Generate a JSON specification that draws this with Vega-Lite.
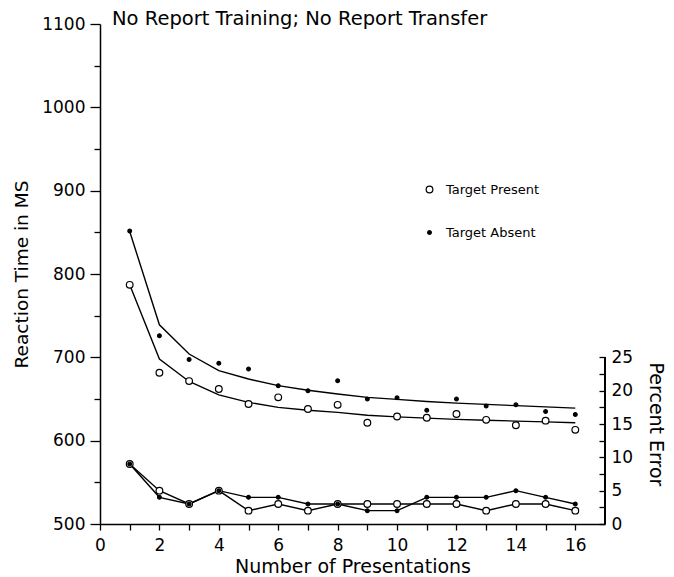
{
  "$schema": "https://vega.github.io/schema/vega-lite/v6.json",
  "width": 505,
  "height": 500,
  "autosize": {"type": "none"},
  "padding": {"left": 100, "top": 24, "right": 69, "bottom": 53},
  "background": "white",
  "title": {
    "text": "No Report Training; No Report Transfer",
    "anchor": "start",
    "frame": "group",
    "dx": 12,
    "offset": -14,
    "font": "DejaVu Sans",
    "fontSize": 19.5,
    "fontWeight": "normal",
    "color": "black"
  },
  "config": {
    "view": {"stroke": null},
    "axis": {
      "grid": false,
      "domainColor": "black",
      "domainWidth": 1.5,
      "tickColor": "black",
      "tickWidth": 1.3,
      "labelFont": "DejaVu Sans",
      "labelFontSize": 17,
      "labelColor": "black",
      "titleFont": "DejaVu Sans",
      "titleFontSize": 18.5,
      "titleFontWeight": "normal",
      "titleColor": "black"
    },
    "legend": {
      "labelFont": "DejaVu Sans",
      "labelFontSize": 13,
      "labelColor": "black"
    }
  },
  "data": {
    "values": [
      {"x": 1, "target": "Target Present", "rt": 787, "fit": 787, "err": 9},
      {"x": 2, "target": "Target Present", "rt": 681.5, "fit": 698, "err": 5},
      {"x": 3, "target": "Target Present", "rt": 671.5, "fit": 671, "err": 3},
      {"x": 4, "target": "Target Present", "rt": 662, "fit": 655, "err": 5},
      {"x": 5, "target": "Target Present", "rt": 644, "fit": 646, "err": 2},
      {"x": 6, "target": "Target Present", "rt": 652, "fit": 640, "err": 3},
      {"x": 7, "target": "Target Present", "rt": 638, "fit": 636.5, "err": 2},
      {"x": 8, "target": "Target Present", "rt": 643, "fit": 634, "err": 3},
      {"x": 9, "target": "Target Present", "rt": 621.5, "fit": 630.5, "err": 3},
      {"x": 10, "target": "Target Present", "rt": 629, "fit": 628.5, "err": 3},
      {"x": 11, "target": "Target Present", "rt": 627.5, "fit": 627, "err": 3},
      {"x": 12, "target": "Target Present", "rt": 632, "fit": 625.5, "err": 3},
      {"x": 13, "target": "Target Present", "rt": 625, "fit": 624.5, "err": 2},
      {"x": 14, "target": "Target Present", "rt": 618.5, "fit": 623.5, "err": 3},
      {"x": 15, "target": "Target Present", "rt": 624, "fit": 622.5, "err": 3},
      {"x": 16, "target": "Target Present", "rt": 613, "fit": 621.5, "err": 2},
      {"x": 1, "target": "Target Absent", "rt": 851.5, "fit": 851, "err": 9},
      {"x": 2, "target": "Target Absent", "rt": 726, "fit": 739, "err": 4},
      {"x": 3, "target": "Target Absent", "rt": 697.5, "fit": 704, "err": 3},
      {"x": 4, "target": "Target Absent", "rt": 693, "fit": 684, "err": 5},
      {"x": 5, "target": "Target Absent", "rt": 686, "fit": 674, "err": 4},
      {"x": 6, "target": "Target Absent", "rt": 666, "fit": 666, "err": 4},
      {"x": 7, "target": "Target Absent", "rt": 660, "fit": 660.5, "err": 3},
      {"x": 8, "target": "Target Absent", "rt": 672, "fit": 656, "err": 3},
      {"x": 9, "target": "Target Absent", "rt": 650, "fit": 652, "err": 2},
      {"x": 10, "target": "Target Absent", "rt": 651.5, "fit": 649.5, "err": 2},
      {"x": 11, "target": "Target Absent", "rt": 636.5, "fit": 647, "err": 4},
      {"x": 12, "target": "Target Absent", "rt": 650, "fit": 645, "err": 4},
      {"x": 13, "target": "Target Absent", "rt": 641.5, "fit": 643.5, "err": 4},
      {"x": 14, "target": "Target Absent", "rt": 643, "fit": 642, "err": 5},
      {"x": 15, "target": "Target Absent", "rt": 635, "fit": 640.5, "err": 4},
      {"x": 16, "target": "Target Absent", "rt": 631.5, "fit": 639, "err": 3}
    ]
  },
  "encoding": {
    "x": {
      "field": "x",
      "type": "quantitative",
      "scale": {"domain": [0, 17], "nice": false, "zero": false},
      "axis": {
        "values": [0, 1, 2, 3, 4, 5, 6, 7, 8, 9, 10, 11, 12, 13, 14, 15, 16],
        "labelExpr": "datum.value % 2 === 0 ? datum.label : ''",
        "tickSize": 6,
        "labelPadding": 7,
        "labelFlush": false,
        "title": "Number of Presentations",
        "titleFontSize": 19,
        "titlePadding": 4
      }
    }
  },
  "layer": [
    {
      "layer": [
        {
          "mark": {"type": "line", "color": "black", "strokeWidth": 1.4},
          "encoding": {
            "y": {
              "field": "fit",
              "type": "quantitative",
              "scale": {"domain": [500, 1100], "nice": false, "zero": false},
              "axis": {
                "orient": "left",
                "values": [500, 550, 600, 650, 700, 750, 800, 850, 900, 950, 1000, 1050, 1100],
                "format": "d",
                "labelExpr": "datum.value % 100 === 0 ? datum.label : ''",
                "tickSize": {"condition": {"test": "datum.value % 100 !== 0", "value": 6}, "value": 10},
                "labelPadding": 5,
                "labelFlush": false,
                "title": "Reaction Time in MS",
                "titlePadding": 10
              }
            },
            "detail": {"field": "target"}
          }
        },
        {
          "mark": {"type": "point", "filled": true, "stroke": "black", "strokeWidth": 1.2, "opacity": 1},
          "encoding": {
            "y": {"field": "rt", "type": "quantitative"},
            "fill": {
              "field": "target",
              "type": "nominal",
              "scale": {"domain": ["Target Present", "Target Absent"], "range": ["white", "black"]},
              "legend": {
                "title": null,
                "orient": "none",
                "legendX": 323,
                "legendY": 159,
                "padding": 0,
                "rowPadding": 29,
                "labelOffset": 10,
                "symbolStrokeColor": "black",
                "symbolStrokeWidth": 1.2,
                "symbolOpacity": 1
              }
            },
            "size": {
              "field": "target",
              "type": "nominal",
              "scale": {"domain": ["Target Present", "Target Absent"], "range": [45, 14]}
            }
          }
        }
      ]
    },
    {
      "layer": [
        {
          "mark": {"type": "line", "color": "black", "strokeWidth": 1.4},
          "encoding": {
            "y": {
              "field": "err",
              "type": "quantitative",
              "scale": {"domain": [0, 75], "nice": false, "zero": false},
              "axis": {
                "orient": "right",
                "values": [0, 2.5, 5, 7.5, 10, 12.5, 15, 17.5, 20, 22.5, 25],
                "format": "d",
                "labelExpr": "datum.value % 5 === 0 ? datum.label : ''",
                "domain": false,
                "tickSize": -6,
                "labelPadding": 12,
                "labelFlush": false,
                "title": "Percent Error",
                "titleFontSize": 19,
                "titleAngle": 90,
                "titleAlign": "center",
                "titleBaseline": "middle",
                "titleX": 50,
                "titleY": 400
              }
            },
            "detail": {"field": "target"}
          }
        },
        {
          "mark": {"type": "point", "filled": true, "stroke": "black", "strokeWidth": 1.2, "opacity": 1},
          "encoding": {
            "y": {"field": "err", "type": "quantitative"},
            "fill": {"field": "target", "type": "nominal"},
            "size": {"field": "target", "type": "nominal"}
          }
        },
        {
          "mark": {"type": "rule", "color": "black", "strokeWidth": 1.5},
          "encoding": {
            "x": {"datum": 17},
            "y": {"datum": 0},
            "y2": {"datum": 25}
          }
        }
      ]
    }
  ],
  "resolve": {"scale": {"y": "independent"}}
}
